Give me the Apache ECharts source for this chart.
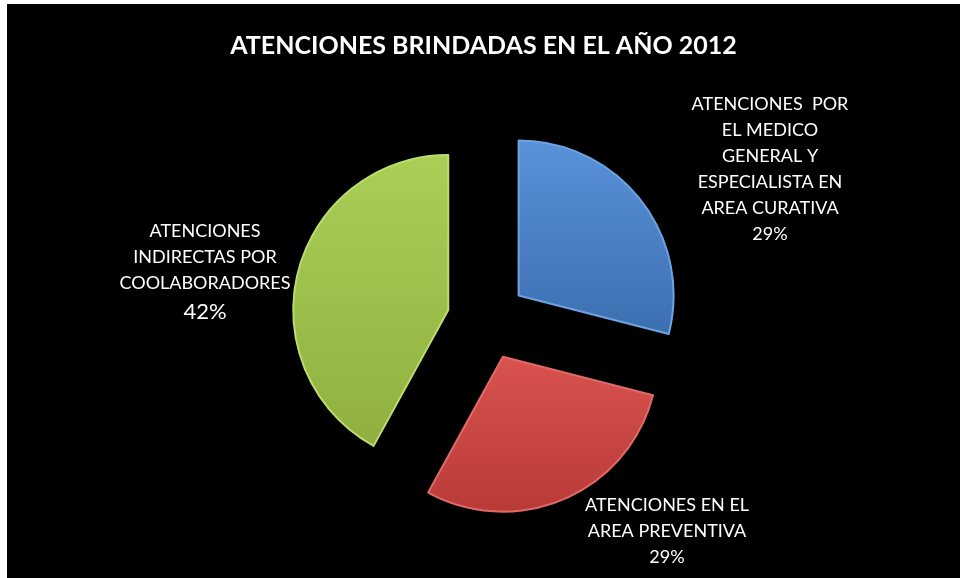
<!DOCTYPE html>
<html>
<head>
<meta charset="utf-8">
<script src="https://cdn.jsdelivr.net/npm/echarts@6/dist/echarts.min.js"></script>
<style>
html,body{margin:0;padding:0;background:#ffffff;}
#chart{position:absolute;left:7px;top:4px;width:953px;height:574px;background:#000;}
</style>
</head>
<body>
<div id="chart"></div>
<script>
const titleText = 'ATENCIONES BRINDADAS EN EL AÑO 2012';
const categories = [
  'ATENCIONES  POR\nEL MEDICO\nGENERAL Y\nESPECIALISTA EN\nAREA CURATIVA',
  'ATENCIONES EN EL\nAREA PREVENTIVA',
  'ATENCIONES\nINDIRECTAS POR\nCOOLABORADORES'
];
const values = [29, 29, 42];
const percentLabels = ['29%', '29%', '42%'];

const colorsTop = ['#5a92d8', '#d9534f', '#a9cf55'];
const colorsBot = ['#3b6fb0', '#b83a37', '#8fb040'];
const borders = ['#6ea3e3', '#e26a66', '#bcdc70'];
const labelPos = [[763, 165], [660, 527], [198, 269]];

const chart = echarts.init(document.getElementById('chart'), null, {renderer: 'canvas'});
const data = categories.map((c, i) => ({
  name: c,
  value: values[i],
  selected: true,
  itemStyle: {
    color: new echarts.graphic.LinearGradient(0, 0, 0, 1, [
      {offset: 0, color: colorsTop[i]},
      {offset: 1, color: colorsBot[i]}
    ]),
    borderColor: borders[i],
    borderWidth: 2
  }
}));

const labelGraphics = categories.map((c, i) => ({
  type: 'text',
  x: labelPos[i][0],
  y: labelPos[i][1],
  silent: true,
  style: {
    text: c.split('\n').map(s => '{t|' + s + '}').join('\n') +
      '\n{' + (i === 2 ? 'p' : 't') + '|' + percentLabels[i] + '}',
    fill: '#fff',
    align: 'center',
    verticalAlign: 'middle',
    rich: {
      t: {fill: '#fff', fontSize: 18, fontFamily: 'Lato', lineHeight: 26, align: 'center'},
      p: {fill: '#fff', fontSize: 22, fontFamily: 'Lato', lineHeight: 32, align: 'center'}
    }
  }
}));

chart.setOption({
  backgroundColor: '#000',
  animation: false,
  title: {
    text: titleText,
    left: 'center',
    top: 24,
    textStyle: {color: '#fff', fontSize: 25, fontWeight: 'bold', fontFamily: 'Lato'}
  },
  graphic: labelGraphics,
  series: [{
    type: 'pie',
    center: [480, 316],
    radius: 155,
    startAngle: 90,
    clockwise: true,
    selectedMode: 'multiple',
    selectedOffset: 40,
    data: data,
    label: {show: false},
    labelLine: {show: false}
  }]
});
</script>
</body>
</html>
